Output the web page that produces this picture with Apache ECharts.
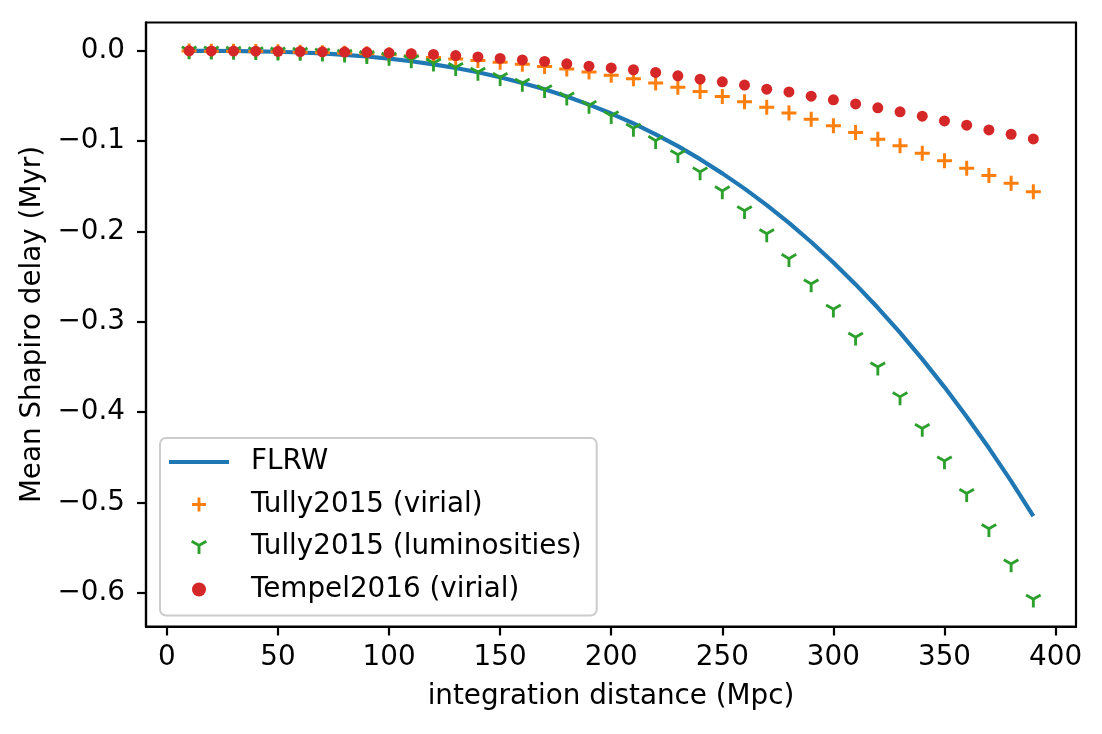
<!DOCTYPE html>
<html>
<head>
<meta charset="utf-8">
<script src="https://cdn.jsdelivr.net/npm/echarts@6/dist/echarts.min.js"></script>
<style>
html,body{margin:0;padding:0;background:#fff;}
#c{width:1102px;height:734px;}
</style>
</head>
<body>
<div id="c"></div>
<script>
const distances = [10,20,30,40,50,60,70,80,90,100,110,120,130,140,150,160,170,180,190,200,210,220,230,240,250,260,270,280,290,300,310,320,330,340,350,360,370,380,390];
const flrw = [-0.00001,-0.00007,-0.00023,-0.00056,-0.00109,-0.00188,-0.00298,-0.00444,-0.00633,-0.00868,-0.0116,-0.0150,-0.0191,-0.0238,-0.0293,-0.0356,-0.0427,-0.0506,-0.0596,-0.0695,-0.0804,-0.0925,-0.1056,-0.1200,-0.1357,-0.1526,-0.1709,-0.1906,-0.2117,-0.2344,-0.2586,-0.2845,-0.3120,-0.3413,-0.3723,-0.4051,-0.4398,-0.4764,-0.515];
const tullyVirial = [-0.0002,-0.0004,-0.0006,-0.0009,-0.0012,-0.0016,-0.0021,-0.0027,-0.0034,-0.0045,-0.0058,-0.0074,-0.0092,-0.0109,-0.0127,-0.0149,-0.0174,-0.0201,-0.0236,-0.0272,-0.031,-0.0358,-0.0405,-0.045,-0.0506,-0.0565,-0.0624,-0.069,-0.0757,-0.083,-0.0905,-0.098,-0.105,-0.1134,-0.1216,-0.130,-0.138,-0.1467,-0.156];
const tullyLum = [-0.0001,-0.0003,-0.0006,-0.0009,-0.0013,-0.0017,-0.0025,-0.0037,-0.0053,-0.0072,-0.0100,-0.0137,-0.0185,-0.0237,-0.0296,-0.0359,-0.0430,-0.0512,-0.0604,-0.0718,-0.0857,-0.0994,-0.115,-0.134,-0.155,-0.177,-0.2025,-0.230,-0.258,-0.286,-0.317,-0.350,-0.383,-0.418,-0.454,-0.490,-0.529,-0.568,-0.607];
const tempelVirial = [-0.0001,-0.0002,-0.0003,-0.0004,-0.0006,-0.0008,-0.0011,-0.0014,-0.0017,-0.0024,-0.0032,-0.0041,-0.0053,-0.0068,-0.0085,-0.0101,-0.0118,-0.0145,-0.0171,-0.0190,-0.021,-0.024,-0.0277,-0.0314,-0.0344,-0.038,-0.0425,-0.0455,-0.0502,-0.0543,-0.0588,-0.0632,-0.0676,-0.0724,-0.0776,-0.0824,-0.0876,-0.0924,-0.0976];
const xTicks = [0,50,100,150,200,250,300,350,400];
const yTicks = [-0.6,-0.5,-0.4,-0.3,-0.2,-0.1,0.0];
const seriesNames = ['FLRW','Tully2015 (virial)','Tully2015 (luminosities)','Tempel2016 (virial)'];

const pair = ys => distances.map((x,i)=>[x, ys[i]]);
const FONT = 'DejaVu Sans';
const FS = 27.8;
const plusPath = 'path://M-0.2,-1L0.2,-1L0.2,-0.2L1,-0.2L1,0.2L0.2,0.2L0.2,1L-0.2,1L-0.2,0.2L-1,0.2L-1,-0.2L-0.2,-0.2Z';
const triPath = 'path://M0,-0.196L0.781,-0.647L0.951,-0.353L0.17,0.098L0.17,1L-0.17,1L-0.17,0.098L-0.951,-0.353L-0.781,-0.647Z';
const lineIcon = 'path://M0,0L60,0L60,4.2L0,4.2Z';

const chart = echarts.init(document.getElementById('c'), null, {renderer:'canvas'});
chart.setOption({
  animation:false,
  backgroundColor:'#ffffff',
  textStyle:{fontFamily:FONT},
  grid:{left:146, top:22.5, right:26, bottom:107.5, show:true, borderColor:'#000', borderWidth:2.2, backgroundColor:'transparent'},
  xAxis:{
    type:'value', min:-9.4, max:409.2,
    name:'integration distance (Mpc)', nameLocation:'middle', nameGap:56,
    nameTextStyle:{fontSize:FS, color:'#000', fontFamily:FONT},
    axisLine:{show:true, onZero:false, lineStyle:{color:'#000', width:2.2}},
    axisTick:{show:true, length:9, lineStyle:{color:'#000', width:2.2}, customValues:xTicks},
    axisLabel:{fontSize:FS, color:'#000', margin:17, fontFamily:FONT, customValues:xTicks, formatter:v=>String(v)},
    splitLine:{show:false}
  },
  yAxis:{
    type:'value', min:-0.6373, max:0.0313,
    name:'Mean Shapiro delay (Myr)', nameLocation:'middle', nameGap:99,
    nameTextStyle:{fontSize:FS, color:'#000', fontFamily:FONT},
    axisLine:{show:true, onZero:false, lineStyle:{color:'#000', width:2.2}},
    axisTick:{show:true, length:9, lineStyle:{color:'#000', width:2.2}, customValues:yTicks},
    axisLabel:{fontSize:FS, color:'#000', margin:21, fontFamily:FONT, customValues:yTicks,
      formatter:v=>{ const r=Math.round(v*10)/10; return r===0?'0.0':(r<0?'\u2212':'')+Math.abs(r).toFixed(1);} },
    splitLine:{show:false}
  },
  legend:{
    orient:'vertical', left:160, top:438,
    itemWidth:60, itemHeight:14, itemGap:14.5,
    padding:[10,15,12,9],
    backgroundColor:'rgba(255,255,255,0.8)', borderColor:'#cccccc', borderWidth:2, borderRadius:6,
    textStyle:{fontSize:FS, color:'#000', fontFamily:FONT, lineHeight:28, padding:[0,0,0,17]},
    data:[{name:seriesNames[0], icon:lineIcon}, seriesNames[1], seriesNames[2], seriesNames[3]]
  },
  series:[
    {name:seriesNames[0], type:'line', data:pair(flrw), symbol:'none', showSymbol:false,
      lineStyle:{color:'#1f77b4', width:4.2}, itemStyle:{color:'#1f77b4'}, z:2},
    {name:seriesNames[1], type:'scatter', data:pair(tullyVirial), symbol:plusPath, symbolSize:15,
      itemStyle:{color:'#ff7f0e', opacity:1}, z:3},
    {name:seriesNames[2], type:'scatter', data:pair(tullyLum), symbol:triPath, symbolSize:[16,13.9], symbolOffset:[0,1.5],
      itemStyle:{color:'#2ca02c', opacity:1}, z:4},
    {name:seriesNames[3], type:'scatter', data:pair(tempelVirial), symbol:'circle', symbolSize:11,
      itemStyle:{color:'#d62728', opacity:1}, z:5}
  ]
});
</script>
</body>
</html>
